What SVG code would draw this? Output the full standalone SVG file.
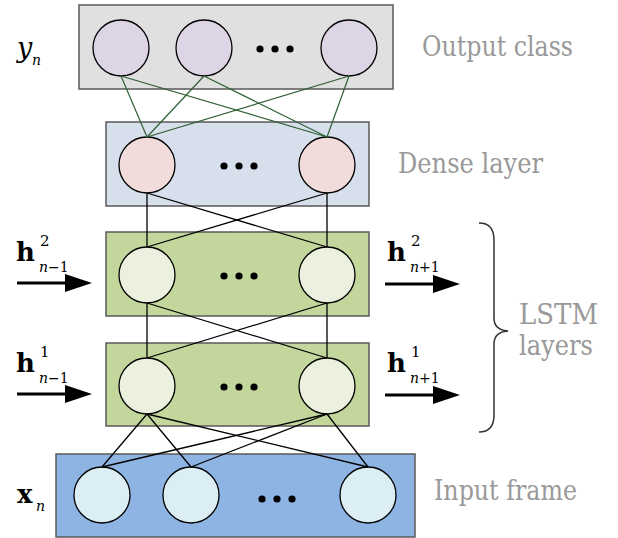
<svg xmlns="http://www.w3.org/2000/svg" width="618" height="538" viewBox="0 0 618 538">
<style>
.box{stroke:#595959;stroke-width:1.5}
.c{stroke:#000;stroke-width:1.3}
text{font-family:'DejaVu Serif','Liberation Serif',serif}
.lbl{font-size:28px;fill:#999}
.m{fill:#000}
.b{font-weight:bold;font-size:26px}
.sub{font-style:italic;font-size:14px;font-weight:normal}
.sup{font-size:15px;font-weight:normal}
.g line{stroke:#2f5f34;stroke-width:1.2}
.k line{stroke:#000;stroke-width:1.3}
.arr{stroke:#000;stroke-width:3}
</style>
<defs>
<g id="dots"><circle cx="0" cy="0" r="3.6"/><circle cx="15" cy="0" r="3.6"/><circle cx="30" cy="0" r="3.6"/></g>
</defs>
<rect width="618" height="538" fill="#fff"/>

<g id="output-layer">
<rect class="box" x="79" y="5" width="314" height="84" fill="#e0e0e0"/>
<circle class="c" cx="121" cy="48" r="28" fill="#ddd5e6"/>
<circle class="c" cx="204" cy="48" r="28" fill="#ddd5e6"/>
<circle class="c" cx="349" cy="48" r="28" fill="#ddd5e6"/>
<use href="#dots" x="260" y="49"/>
</g>

<g id="dense-layer">
<rect class="box" x="106" y="122" width="263" height="84" fill="#d6dfeb"/>
<circle class="c" cx="147" cy="165" r="28" fill="#f2dcdb"/>
<circle class="c" cx="327" cy="165" r="28" fill="#f2dcdb"/>
<use href="#dots" x="224" y="166"/>
</g>

<g id="lstm-layer-2">
<rect class="box" x="106" y="232" width="263" height="84" fill="#c3d69b"/>
<circle class="c" cx="147" cy="275" r="28" fill="#ebf1de"/>
<circle class="c" cx="327" cy="275" r="28" fill="#ebf1de"/>
<use href="#dots" x="224" y="276"/>
</g>

<g id="lstm-layer-1">
<rect class="box" x="106" y="343" width="263" height="83" fill="#c3d69b"/>
<circle class="c" cx="147" cy="386" r="28" fill="#ebf1de"/>
<circle class="c" cx="327" cy="386" r="28" fill="#ebf1de"/>
<use href="#dots" x="224" y="387"/>
</g>

<g id="input-layer">
<rect class="box" x="56" y="454" width="359" height="83" fill="#8eb4e3"/>
<circle class="c" cx="102" cy="495" r="28" fill="#dbeef3"/>
<circle class="c" cx="191" cy="495" r="28" fill="#dbeef3"/>
<circle class="c" cx="368" cy="495" r="28" fill="#dbeef3"/>
<use href="#dots" x="262" y="499"/>
</g>

<g id="connectors">
<g class="g">
<line x1="121" y1="76" x2="147" y2="137"/><line x1="121" y1="76" x2="327" y2="137"/>
<line x1="204" y1="76" x2="147" y2="137"/><line x1="204" y1="76" x2="327" y2="137"/>
<line x1="349" y1="76" x2="147" y2="137"/><line x1="349" y1="76" x2="327" y2="137"/>
</g>
<g class="k">
<line x1="147" y1="193" x2="147" y2="247"/><line x1="147" y1="193" x2="327" y2="247"/>
<line x1="327" y1="193" x2="147" y2="247"/><line x1="327" y1="193" x2="327" y2="247"/>
<line x1="147" y1="303" x2="147" y2="358"/><line x1="147" y1="303" x2="327" y2="358"/>
<line x1="327" y1="303" x2="147" y2="358"/><line x1="327" y1="303" x2="327" y2="358"/>
<line x1="147" y1="414" x2="102" y2="467"/><line x1="147" y1="414" x2="191" y2="467"/><line x1="147" y1="414" x2="368" y2="467"/>
<line x1="327" y1="414" x2="102" y2="467"/><line x1="327" y1="414" x2="191" y2="467"/><line x1="327" y1="414" x2="368" y2="467"/>
</g>
<g id="recurrent-arrows">
<line class="arr" x1="17" y1="283" x2="68" y2="283"/><polygon points="65,274 92,283 65,292"/>
<line class="arr" x1="17" y1="394" x2="68" y2="394"/><polygon points="65,385 92,394 65,403"/>
<line class="arr" x1="385" y1="284" x2="436" y2="284"/><polygon points="433,275 460,284 433,293"/>
<line class="arr" x1="385" y1="395" x2="436" y2="395"/><polygon points="433,386 460,395 433,404"/>
</g>
</g>

<g id="math-labels" class="m">
<text x="17" y="57" font-size="27" font-style="italic">y<tspan class="sub" x="32" y="65">n</tspan></text>
<text x="16" y="261" class="b">h<tspan class="sup" x="40" y="246">2</tspan><tspan class="sub" x="39" y="272">n<tspan font-style="normal">−1</tspan></tspan></text>
<text x="16" y="372" class="b">h<tspan class="sup" x="40" y="357">1</tspan><tspan class="sub" x="39" y="383">n<tspan font-style="normal">−1</tspan></tspan></text>
<text x="387" y="261" class="b">h<tspan class="sup" x="411" y="246">2</tspan><tspan class="sub" x="410" y="272">n<tspan font-style="normal">+1</tspan></tspan></text>
<text x="387" y="372" class="b">h<tspan class="sup" x="411" y="357">1</tspan><tspan class="sub" x="410" y="383">n<tspan font-style="normal">+1</tspan></tspan></text>
<text x="17" y="503" class="b">x<tspan class="sub" x="36" y="511">n</tspan></text>
</g>

<g id="layer-labels">
<text class="lbl" x="422" y="56" textLength="151" lengthAdjust="spacingAndGlyphs">Output class</text>
<text class="lbl" x="398" y="173" textLength="145" lengthAdjust="spacingAndGlyphs">Dense layer</text>
<text class="lbl" x="519" y="324" textLength="79" lengthAdjust="spacingAndGlyphs">LSTM</text>
<text class="lbl" x="519" y="355" textLength="74" lengthAdjust="spacingAndGlyphs">layers</text>
<text class="lbl" x="434" y="500" textLength="143" lengthAdjust="spacingAndGlyphs">Input frame</text>
<path d="M479 223 Q494 223 494 240 L494 318 Q494 330 508 331 Q494 332 494 344 L494 415 Q494 432 479 432" fill="none" stroke="#333" stroke-width="1.5"/>
</g>
</svg>
